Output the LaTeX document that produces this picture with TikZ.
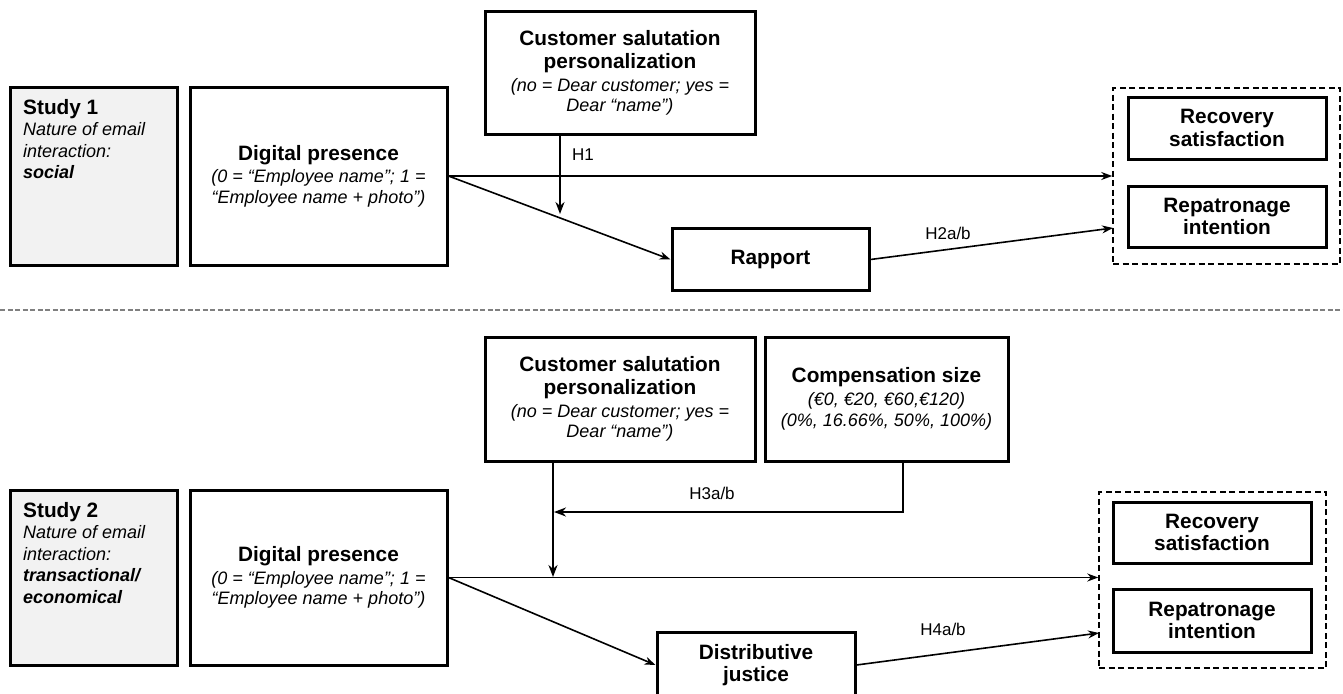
\documentclass[tikz,border=0pt]{standalone}
\usepackage{fontspec}
\setmainfont{Liberation Sans}
\usetikzlibrary{arrows.meta}
\definecolor{studygray}{HTML}{F2F2F2}
\definecolor{sepgray}{HTML}{808080}
\newcommand\Ttl{\fontsize{20.8}{24.5}\selectfont\bfseries}
\newcommand\Sub{\fontsize{18}{21.5}\selectfont\mdseries\itshape}
\newcommand\SubB{\fontsize{18}{21.5}\selectfont\bfseries\itshape}
\newcommand\Lbl{\fontsize{17}{20}\selectfont}
\begin{document}
\begin{tikzpicture}[x=1pt,y=-1pt,
  box/.style={draw, line width=3pt, inner sep=0pt, align=center, font=\Ttl},
  studybox/.style={draw, line width=3pt, fill=studygray, inner sep=0pt},
  studytext/.style={anchor=north west, inner sep=0pt, align=left, font=\Ttl},
  groupbox/.style={draw, line width=1.5pt, dash pattern=on 6pt off 3.5pt, inner sep=0pt},
  conn/.style={line width=1.6pt, -{Stealth[length=11pt,width=8pt]}},
  modline/.style={line width=2.4pt, -{Stealth[length=12pt,width=9pt]}},
  lbl/.style={inner sep=0pt, font=\Lbl}
]
\useasboundingbox (0,0) rectangle (1343,693);

% ---------------- Study 1 ----------------
\node[studybox, minimum width=167pt, minimum height=178pt] (s1) at (93.5,176) {};
\node[studytext] (s1t) at (23,99) {Study 1\\[-3pt]\Sub Nature of email\\[-3pt]\Sub interaction:\\[-3pt]\SubB social};

\node[box, minimum width=257pt, minimum height=178pt] (dp1) at (318.5,176)
  {Digital presence\\[-2pt]\Sub (0 = “Employee name”; 1 =\\[-4pt]\Sub “Employee name + photo”)};

\node[box, minimum width=270pt, minimum height=122pt] (csp1) at (620,73)
  {Customer salutation\\[-1pt]personalization\\[-2pt]\Sub (no = Dear customer; yes =\\[-4pt]\Sub Dear “name”)};

\node[box, minimum width=197pt, minimum height=62pt] (rap) at (770.5,259.5) {Rapport};

\node[groupbox, minimum width=227pt, minimum height=176pt] (dash1) at (1226.5,176) {};
\node[box, minimum width=198pt, minimum height=62pt] (rs1) at (1227,128) {Recovery\\[-2pt]satisfaction};
\node[box, minimum width=198pt, minimum height=61pt] (ri1) at (1227,216.5) {Repatronage\\[-2pt]intention};

\coordinate (h1top) at (560,134);
\coordinate (h1end) at (560,214);
\coordinate (h2end) at (1113,228);

\draw[conn] (dp1.east) -- (dash1.west |- dp1.east);
\draw[conn] (dp1.east) -- (rap.west);
\draw[modline] (h1top) -- (h1end);
\draw[conn] (rap.east) -- (h2end);

\node[lbl, anchor=west] (lh1) at (572,155) {H1};
\node[lbl] (lh2) at (948,233) {H2a/b};

% ---------------- separator ----------------
\coordinate (sepl) at (0,310);
\coordinate (sepr) at (1343,310);
\draw[sepgray, line width=1.6pt, dash pattern=on 5pt off 2.5pt] (sepl) -- (sepr);

% ---------------- Study 2 ----------------
\node[studybox, minimum width=167pt, minimum height=175pt] (s2) at (93.5,577.5) {};
\node[studytext] (s2t) at (23,502) {Study 2\\[-3pt]\Sub Nature of email\\[-3pt]\Sub interaction:\\[-3pt]\SubB transactional/\\[-3pt]\SubB economical};

\node[box, minimum width=257pt, minimum height=175pt] (dp2) at (318.5,577.5)
  {Digital presence\\[-2pt]\Sub (0 = “Employee name”; 1 =\\[-4pt]\Sub “Employee name + photo”)};

\node[box, minimum width=270pt, minimum height=124pt] (csp2) at (620,399)
  {Customer salutation\\[-1pt]personalization\\[-2pt]\Sub (no = Dear customer; yes =\\[-4pt]\Sub Dear “name”)};

\node[box, minimum width=243pt, minimum height=124pt] (comp) at (886.5,399)
  {Compensation size\\[-2pt]\Sub (€0, €20, €60,€120)\\[-3pt]\Sub (0\%, 16.66\%, 50\%, 100\%)};

\node[box, minimum width=198pt, minimum height=66pt] (dj) at (756,665) {Distributive\\[-2pt]justice};

\node[groupbox, minimum width=227pt, minimum height=176pt] (dash2) at (1212.5,580) {};
\node[box, minimum width=198pt, minimum height=61pt] (rs2) at (1212,532.5) {Recovery\\[-2pt]satisfaction};
\node[box, minimum width=198pt, minimum height=63pt] (ri2) at (1212,620.5) {Repatronage\\[-2pt]intention};

\coordinate (h3top) at (553,461);
\coordinate (h3end) at (553,577);
\coordinate (h3a) at (903,461);
\coordinate (h3c) at (554,512);
\coordinate (h4end) at (1099,633);

\draw[conn] (dp2.east) -- (dash2.west |- dp2.east);
\draw[conn] (dp2.east) -- (dj.west);
\draw[modline] (h3top) -- (h3end);
\draw[modline] (h3a) |- (h3c);
\draw[conn] (dj.east) -- (h4end);

\node[lbl] (lh3) at (712,493) {H3a/b};
\node[lbl] (lh4) at (943,629) {H4a/b};
\end{tikzpicture}
\end{document}
